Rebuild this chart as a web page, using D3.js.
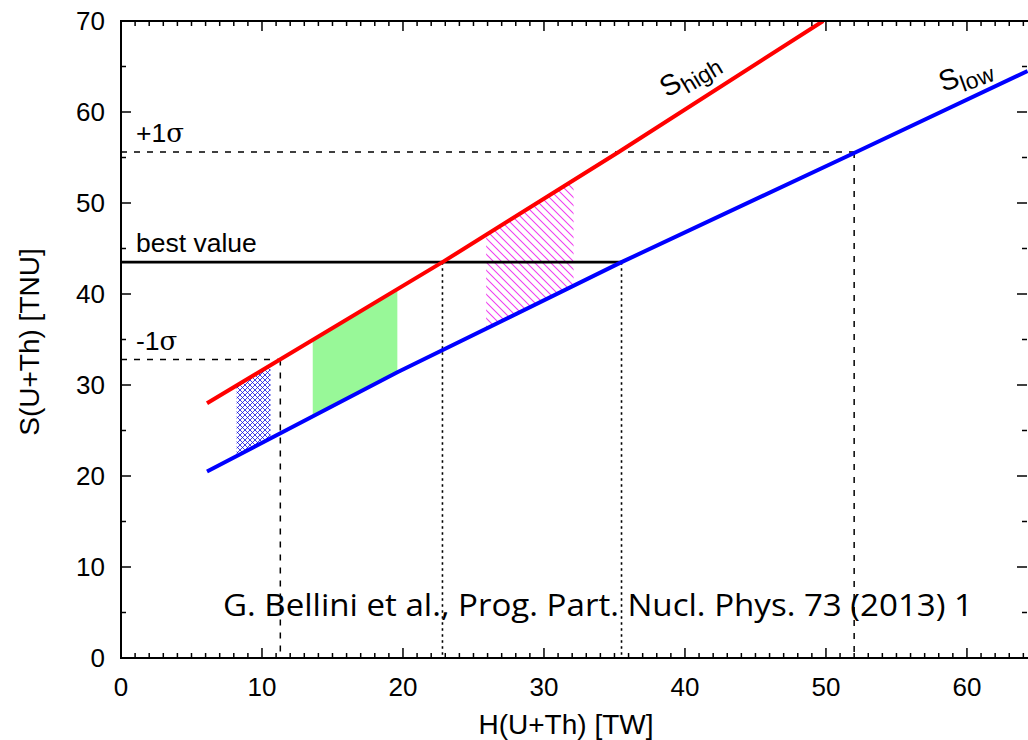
<!DOCTYPE html>
<html>
<head>
<meta charset="utf-8">
<script src="https://cdn.jsdelivr.net/npm/d3@7"></script>
<style>
  body { margin: 0; background: #fff; }
</style>
</head>
<body>
<div id="chart-area"></div>
<script>
const xTicks = [0, 10, 20, 30, 40, 50, 60];
const yTicks = [0, 10, 20, 30, 40, 50, 60, 70];
// points [H, S]
const sHigh = [[6.1, 28.0], [22.8, 43.5], [35.3, 55.6], [49.8, 70.0]];
const sLow = [[6.1, 20.5], [19.6, 31.4], [35.5, 43.5], [52.0, 55.5], [64.3, 64.5]];
const levels = [
  { name: "+1", sigma: true, s: 55.6, h: 52.0 },
  { name: "best value", sigma: false, s: 43.5, h: 35.5 },
  { name: "-1", sigma: true, s: 32.8, h: 11.3 }
];
const bestCrossings = [22.8, 35.5];
const bands = [
  { from: 8.2, to: 10.6, kind: "cross" },
  { from: 13.6, to: 19.6, kind: "green" },
  { from: 25.9, to: 32.1, kind: "hatch" }
];
const citation = "G. Bellini et al., Prog. Part. Nucl. Phys. 73 (2013) 1";

const chartSize = { width: 1028, height: 740 };
const plot = { left: 121, right: 1028, top: 21, bottom: 658 };
const sans = "'Liberation Sans', Arial, Helvetica, sans-serif";

const svg = d3.select("#chart-area").append("svg")
  .attr("width", chartSize.width)
  .attr("height", chartSize.height)
  .style("font-family", sans);

const x = d3.scaleLinear().domain([0, 64.33]).range([plot.left, plot.right]);
const y = d3.scaleLinear().domain([0, 70]).range([plot.bottom, plot.top]);

const defs = svg.append("defs");
defs.append("clipPath").attr("id", "plot-clip")
  .append("rect")
  .attr("x", plot.left).attr("y", plot.top)
  .attr("width", plot.right - plot.left).attr("height", plot.bottom - plot.top);

// band between both lines
const bandPts = sHigh.concat(sLow.slice().reverse());
defs.append("clipPath").attr("id", "band-clip")
  .append("path")
  .attr("d", d3.line().x(d => x(d[0])).y(d => y(d[1]))(bandPts) + "Z");

const cross = defs.append("pattern").attr("id", "cross")
  .attr("patternUnits", "userSpaceOnUse").attr("width", 5).attr("height", 5);
cross.append("path").attr("d", "M0,0L5,5M5,0L0,5M-1,4L1,6M4,-1L6,1M-1,1L1,-1M4,6L6,4")
  .attr("stroke", "#1010e0").attr("stroke-width", 0.8);

const hatch = defs.append("pattern").attr("id", "hatch")
  .attr("patternUnits", "userSpaceOnUse").attr("width", 8).attr("height", 8);
hatch.append("path").attr("d", "M0,0L8,8M-2,6L2,10M6,-2L10,2")
  .attr("stroke", "#f040f0").attr("stroke-width", 1.1);

const fills = { cross: "url(#cross)", green: "#98f898", hatch: "url(#hatch)" };

const g = svg.append("g").attr("clip-path", "url(#plot-clip)");

g.append("g").attr("clip-path", "url(#band-clip)")
  .selectAll("rect").data(bands).enter().append("rect")
  .attr("x", d => x(d.from))
  .attr("width", d => x(d.to) - x(d.from))
  .attr("y", plot.top)
  .attr("height", plot.bottom - plot.top)
  .attr("fill", d => fills[d.kind]);

// reference levels
levels.forEach(l => {
  const best = !l.sigma;
  g.append("line")
    .attr("x1", x(0)).attr("x2", x(l.h))
    .attr("y1", y(l.s)).attr("y2", y(l.s))
    .attr("stroke", "#000")
    .attr("stroke-width", best ? 2.6 : 1.5)
    .attr("stroke-dasharray", best ? null : "6,7");
  if (!best) {
    g.append("line")
      .attr("x1", x(l.h)).attr("x2", x(l.h))
      .attr("y1", y(l.s)).attr("y2", y(0))
      .attr("stroke", "#000").attr("stroke-width", 1.5)
      .attr("stroke-dasharray", "6,7");
  }
  const t = svg.append("text")
    .attr("x", 136).attr("y", y(l.s) - 10)
    .attr("font-size", 26.5)
    .text(l.name);
  if (l.sigma) {
    t.append("tspan")
      .style("font-family", "'DejaVu Serif', 'Liberation Serif', serif")
      .attr("font-size", 26)
      .text("σ");
  }
});

bestCrossings.forEach(h => {
  g.append("line")
    .attr("x1", x(h)).attr("x2", x(h))
    .attr("y1", y(43.5)).attr("y2", y(0))
    .attr("stroke", "#000").attr("stroke-width", 1.6)
    .attr("stroke-dasharray", "2.5,3.5");
});

const line = d3.line().x(d => x(d[0])).y(d => y(d[1]));
g.append("path").datum(sHigh).attr("d", line)
  .attr("fill", "none").attr("stroke", "#f00").attr("stroke-width", 4);
g.append("path").datum(sLow).attr("d", line)
  .attr("fill", "none").attr("stroke", "#00f").attr("stroke-width", 4);

// line labels
const lab = (px, py, rot, sub) => {
  const t = svg.append("text")
    .attr("transform", `translate(${px},${py}) rotate(${rot})`)
    .attr("font-size", 29).text("S");
  t.append("tspan").attr("font-size", 23).attr("dy", 7).text(sub);
};
lab(667, 98, -31, "high");
lab(943, 92, -20, "low");

// citation
svg.append("text")
  .attr("x", 223).attr("y", 616)
  .style("font-family", "'Open Sans', 'Noto Sans', sans-serif")
  .attr("font-size", 31)
  .attr("textLength", 750)
  .attr("lengthAdjust", "spacingAndGlyphs")
  .text(citation);

// axes
const xMinor = d3.range(0, 65, 1);
const yMinor = d3.range(0, 71, 5);
const ax = svg.append("g").attr("stroke", "#000").attr("stroke-width", 1.5);
xMinor.forEach(v => {
  const len = v % 10 === 0 ? 10 : 5;
  ax.append("line").attr("x1", x(v)).attr("x2", x(v))
    .attr("y1", plot.bottom).attr("y2", plot.bottom - len);
  ax.append("line").attr("x1", x(v)).attr("x2", x(v))
    .attr("y1", plot.top).attr("y2", plot.top + len);
});
yMinor.forEach(v => {
  const len = v % 10 === 0 ? 10 : 5;
  ax.append("line").attr("x1", plot.left).attr("x2", plot.left + len)
    .attr("y1", y(v)).attr("y2", y(v));
  ax.append("line").attr("x1", plot.right - 1).attr("x2", plot.right - 1 - len)
    .attr("y1", y(v)).attr("y2", y(v));
});
svg.append("rect")
  .attr("x", plot.left).attr("y", plot.top)
  .attr("width", plot.right - plot.left + 2).attr("height", plot.bottom - plot.top)
  .attr("fill", "none").attr("stroke", "#000").attr("stroke-width", 2);

svg.append("g").selectAll("text").data(xTicks).enter().append("text")
  .attr("x", d => x(d)).attr("y", 696)
  .attr("text-anchor", "middle").attr("font-size", 26)
  .text(d => d);
svg.append("g").selectAll("text").data(yTicks).enter().append("text")
  .attr("x", 105).attr("y", d => y(d) + 9)
  .attr("text-anchor", "end").attr("font-size", 26)
  .text(d => d);

svg.append("text")
  .attr("x", 566).attr("y", 734)
  .attr("text-anchor", "middle").attr("font-size", 28)
  .text("H(U+Th) [TW]");
svg.append("text")
  .attr("transform", "translate(39,342) rotate(-90)")
  .attr("text-anchor", "middle").attr("font-size", 28)
  .text("S(U+Th) [TNU]");
</script>
</body>
</html>
